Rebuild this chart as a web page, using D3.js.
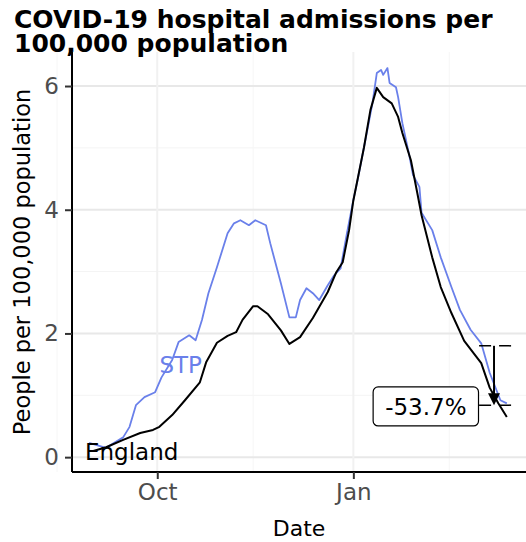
<!DOCTYPE html>
<html>
<head>
<meta charset="utf-8">
<script src="https://cdn.jsdelivr.net/npm/d3@7"></script>
<style>
  body { margin: 0; background: #fff; }
  svg { display: block; font-family: "DejaVu Sans", sans-serif; }
</style>
</head>
<body>
<div id="chart"></div>
<script>
const width = 526;
const height = 542;

// England line (per 100,000)
const englandDates = ["2020-09-01","2020-09-07","2020-09-15","2020-09-23","2020-09-29","2020-10-02","2020-10-08",
    "2020-10-14","2020-10-21","2020-10-24","2020-10-29","2020-11-03","2020-11-07","2020-11-10","2020-11-15",
    "2020-11-17","2020-11-22","2020-11-28","2020-12-02","2020-12-07","2020-12-13","2020-12-20","2020-12-24",
    "2020-12-27","2020-12-30","2021-01-01","2021-01-06","2021-01-09","2021-01-12","2021-01-15","2021-01-19",
    "2021-01-22","2021-01-24","2021-01-28","2021-01-31","2021-02-02","2021-02-07","2021-02-11","2021-02-16",
    "2021-02-22","2021-03-02","2021-03-06","2021-03-10","2021-03-14"];
const englandValues = [0.10,0.16,0.28,0.39,0.44,0.49,0.68,
    0.92,1.21,1.54,1.85,1.96,2.02,2.22,2.44,
    2.44,2.31,2.05,1.83,1.94,2.25,2.67,2.99,
    3.15,3.67,4.15,5.01,5.61,5.97,5.82,5.72,
    5.50,5.24,4.80,4.27,3.91,3.23,2.75,2.33,
    1.88,1.52,1.12,0.87,0.65];

// STP line (per 100,000)
const stpDates = ["2020-08-30","2020-09-07","2020-09-15","2020-09-18","2020-09-21","2020-09-25","2020-09-30",
    "2020-10-03","2020-10-08","2020-10-11","2020-10-16","2020-10-19","2020-10-22","2020-10-25","2020-10-29",
    "2020-11-03","2020-11-06","2020-11-09","2020-11-13","2020-11-16","2020-11-21","2020-11-23","2020-11-28",
    "2020-12-02","2020-12-05","2020-12-07","2020-12-10","2020-12-13","2020-12-16","2020-12-20","2020-12-23",
    "2020-12-26","2020-12-29","2021-01-01","2021-01-03","2021-01-06","2021-01-10","2021-01-12","2021-01-14",
    "2021-01-15","2021-01-17","2021-01-18","2021-01-21","2021-01-22","2021-01-24","2021-01-27","2021-01-29",
    "2021-02-01","2021-02-02","2021-02-07","2021-02-11","2021-02-16","2021-02-20","2021-02-25","2021-03-02",
    "2021-03-06","2021-03-11","2021-03-14"];
const stpValues = [0.23,0.15,0.32,0.49,0.84,0.97,1.05,
    1.29,1.57,1.86,1.97,1.89,2.22,2.65,3.07,
    3.62,3.78,3.83,3.75,3.83,3.75,3.46,2.81,
    2.26,2.26,2.54,2.73,2.65,2.54,2.78,2.94,
    3.05,3.62,4.16,4.48,5.01,5.73,6.21,6.26,
    6.18,6.29,6.05,5.98,5.82,5.40,4.92,4.56,
    4.37,3.95,3.67,3.23,2.75,2.38,2.06,1.84,
    1.36,0.92,0.87];

const yTicks = [0, 2, 4, 6];
const yMinor = [1, 3, 5];
const xTicks = ["2020-10-01", "2021-01-01"];
const xTickLabels = ["Oct", "Jan"];
const xMinor = ["2020-08-15", "2020-11-15", "2021-02-15"];

// change annotation
const changeFrom = ["2021-03-01", "2021-03-16"];
const changeArrowDate = "2021-03-08";
const changeValues = [1.80, 0.84];
const changeLabel = "-53.7%";
const changeLabelDate = "2021-02-04";
const changeLabelValue = 0.82;

const seriesLabels = [
    {text: "STP", date: "2020-10-12", value: 1.49, color: "#6a80ea"},
    {text: "England", date: "2020-09-19", value: 0.08, color: "#000"}
];

const parse = d3.timeParse("%Y-%m-%d");
const blue = "#6a80ea";

const x = d3.scaleTime()
    .domain([parse("2020-08-22"), parse("2021-03-23")])
    .range([72, 526]);
const y = d3.scaleLinear()
    .domain([-0.24, 6.55])
    .range([472, 52]);

const svg = d3.select("#chart").append("svg")
    .attr("width", width)
    .attr("height", height);

// grid
svg.append("g").selectAll("line").data(yMinor).enter().append("line")
    .attr("x1", 72).attr("x2", 526)
    .attr("y1", d => y(d)).attr("y2", d => y(d))
    .attr("stroke", "#f4f4f4").attr("stroke-width", 1);
svg.append("g").selectAll("line").data(xMinor.map(parse)).enter().append("line")
    .attr("x1", d => x(d)).attr("x2", d => x(d))
    .attr("y1", 52).attr("y2", 472)
    .attr("stroke", "#f6f6f6").attr("stroke-width", 1);
svg.append("g").selectAll("line").data(yTicks).enter().append("line")
    .attr("x1", 72).attr("x2", 526)
    .attr("y1", d => y(d)).attr("y2", d => y(d))
    .attr("stroke", "#e8e8e8").attr("stroke-width", 2);
svg.append("g").selectAll("line").data(xTicks.map(parse)).enter().append("line")
    .attr("x1", d => x(d)).attr("x2", d => x(d))
    .attr("y1", 52).attr("y2", 472)
    .attr("stroke", "#f1f1f1").attr("stroke-width", 2);

// lines
const line = d3.line().x(d => x(d[0])).y(d => y(d[1]));
const england = englandDates.map((d, i) => [parse(d), englandValues[i]]);
const stp = stpDates.map((d, i) => [parse(d), stpValues[i]]);

svg.append("path").datum(stp)
    .attr("d", line).attr("fill", "none")
    .attr("stroke", blue).attr("stroke-width", 1.8).attr("stroke-linejoin", "round");
svg.append("path").datum(england)
    .attr("d", line).attr("fill", "none")
    .attr("stroke", "#000").attr("stroke-width", 2).attr("stroke-linejoin", "round");

// series labels
svg.append("g").selectAll("text").data(seriesLabels).enter().append("text")
    .attr("x", d => x(parse(d.date)))
    .attr("y", d => y(d.value))
    .attr("dy", "0.36em")
    .attr("text-anchor", "middle")
    .attr("font-size", 23)
    .attr("fill", d => d.color)
    .text(d => d.text);

// change annotation
const dash = svg.append("g");
changeValues.forEach(v => {
    dash.append("line")
        .attr("x1", x(parse(changeFrom[0]))).attr("x2", x(parse(changeFrom[1])))
        .attr("y1", y(v)).attr("y2", y(v))
        .attr("stroke", "#000").attr("stroke-width", 1.5)
        .attr("stroke-dasharray", "12,8");
});
const ax = x(parse(changeArrowDate));
svg.append("line")
    .attr("x1", ax).attr("x2", ax)
    .attr("y1", y(changeValues[0])).attr("y2", y(changeValues[1]) - 10)
    .attr("stroke", "#000").attr("stroke-width", 2);
svg.append("path")
    .attr("d", `M${ax - 6},${y(changeValues[1]) - 12}L${ax + 6},${y(changeValues[1]) - 12}L${ax},${y(changeValues[1])}Z`)
    .attr("fill", "#000");

const lg = svg.append("g");
const lt = lg.append("text")
    .attr("x", x(parse(changeLabelDate)))
    .attr("y", y(changeLabelValue))
    .attr("dy", "0.36em")
    .attr("text-anchor", "middle")
    .attr("font-size", 23)
    .attr("fill", "#000")
    .text(changeLabel);
const bb = lt.node().getBBox();
lg.insert("rect", "text")
    .attr("x", bb.x - 12).attr("y", y(changeLabelValue) - 19.5)
    .attr("width", bb.width + 24).attr("height", 39)
    .attr("rx", 5)
    .attr("fill", "#fff").attr("stroke", "#000").attr("stroke-width", 1.2);

// axes
const yAxis = svg.append("g")
    .attr("transform", "translate(72,0)")
    .call(d3.axisLeft(y).tickValues(yTicks).tickSize(7).tickPadding(6).tickFormat(d3.format("d")));
const xAxis = svg.append("g")
    .attr("transform", "translate(0,472)")
    .call(d3.axisBottom(x).tickValues(xTicks.map(parse)).tickSize(7).tickPadding(5)
        .tickFormat((d, i) => xTickLabels[i]));
[yAxis, xAxis].forEach(g => {
    g.select(".domain").attr("stroke", "#000").attr("stroke-width", 2);
    g.selectAll(".tick line").attr("stroke", "#333").attr("stroke-width", 2);
    g.selectAll(".tick text").attr("fill", "#4d4d4d").attr("font-size", 23)
        .attr("font-family", "DejaVu Sans, sans-serif");
});
yAxis.select(".domain").attr("d", "M0,52V472");
xAxis.select(".domain").attr("d", "M72,0H526");

// titles
svg.append("text")
    .attr("x", 299).attr("y", 536)
    .attr("text-anchor", "middle")
    .attr("font-size", 22)
    .text("Date");
svg.append("text")
    .attr("transform", "translate(30,262) rotate(-90)")
    .attr("text-anchor", "middle")
    .attr("font-size", 22.5)
    .text("People per 100,000 population");

const title = svg.append("text")
    .attr("font-size", 25)
    .attr("font-weight", "bold")
    .attr("fill", "#000");
title.append("tspan").attr("x", 14).attr("y", 27.5).text("COVID-19 hospital admissions per");
title.append("tspan").attr("x", 14).attr("y", 51.5).text("100,000 population");
</script>
</body>
</html>
